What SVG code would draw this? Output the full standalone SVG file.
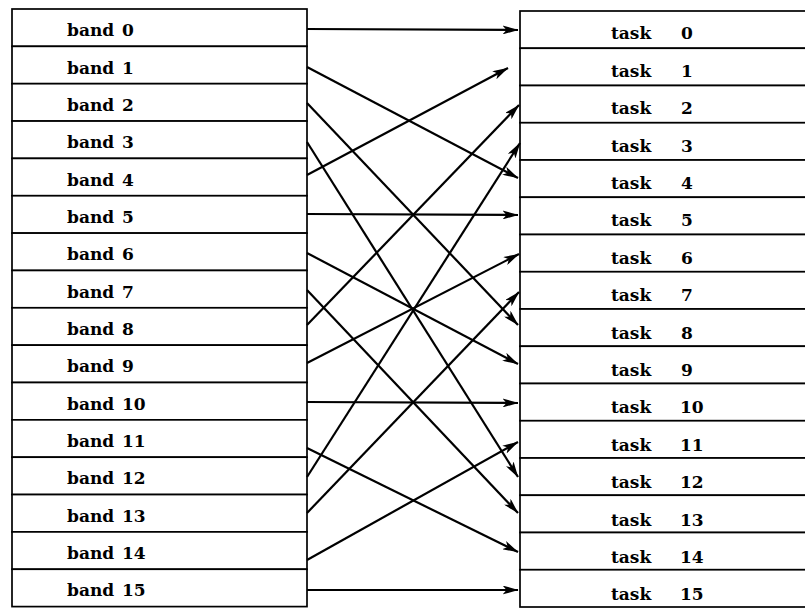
<svg xmlns="http://www.w3.org/2000/svg" width="805" height="609" viewBox="0 0 805 609">
<style>
.row{fill:#fff;stroke:#000;stroke-width:1.7}
.t{font-family:"DejaVu Serif","Liberation Serif",serif;font-weight:bold;font-size:17px;fill:#000}
.c line{stroke:#000;stroke-width:2.2;marker-end:url(#ah)}
</style>
<defs>
<marker id="ah" viewBox="0 0 16 9" markerWidth="16" markerHeight="9" refX="15.5" refY="4.5" orient="auto" markerUnits="userSpaceOnUse">
<path d="M0,0 L16,4.5 L0,9 L4,4.5 z" fill="#000"/>
</marker>
</defs>
<rect width="805" height="609" fill="#fff"/>
<g id="band0"><rect class="row" x="12" y="9" width="295" height="37.35"/><text class="t" x="67" y="36.2">band <tspan x="122">0</tspan></text></g>
<g id="band1"><rect class="row" x="12" y="46.35" width="295" height="37.35"/><text class="t" x="67" y="73.5">band <tspan x="122">1</tspan></text></g>
<g id="band2"><rect class="row" x="12" y="83.7" width="295" height="37.35"/><text class="t" x="67" y="110.9">band <tspan x="122">2</tspan></text></g>
<g id="band3"><rect class="row" x="12" y="121.05" width="295" height="37.35"/><text class="t" x="67" y="148.2">band <tspan x="122">3</tspan></text></g>
<g id="band4"><rect class="row" x="12" y="158.4" width="295" height="37.35"/><text class="t" x="67" y="185.6">band <tspan x="122">4</tspan></text></g>
<g id="band5"><rect class="row" x="12" y="195.75" width="295" height="37.35"/><text class="t" x="67" y="222.9">band <tspan x="122">5</tspan></text></g>
<g id="band6"><rect class="row" x="12" y="233.1" width="295" height="37.35"/><text class="t" x="67" y="260.3">band <tspan x="122">6</tspan></text></g>
<g id="band7"><rect class="row" x="12" y="270.45" width="295" height="37.35"/><text class="t" x="67" y="297.6">band <tspan x="122">7</tspan></text></g>
<g id="band8"><rect class="row" x="12" y="307.8" width="295" height="37.35"/><text class="t" x="67" y="335">band <tspan x="122">8</tspan></text></g>
<g id="band9"><rect class="row" x="12" y="345.15" width="295" height="37.35"/><text class="t" x="67" y="372.3">band <tspan x="122">9</tspan></text></g>
<g id="band10"><rect class="row" x="12" y="382.5" width="295" height="37.35"/><text class="t" x="67" y="409.7">band <tspan x="122">10</tspan></text></g>
<g id="band11"><rect class="row" x="12" y="419.85" width="295" height="37.35"/><text class="t" x="67" y="447">band <tspan x="122">11</tspan></text></g>
<g id="band12"><rect class="row" x="12" y="457.2" width="295" height="37.35"/><text class="t" x="67" y="484.4">band <tspan x="122">12</tspan></text></g>
<g id="band13"><rect class="row" x="12" y="494.55" width="295" height="37.35"/><text class="t" x="67" y="521.7">band <tspan x="122">13</tspan></text></g>
<g id="band14"><rect class="row" x="12" y="531.9" width="295" height="37.35"/><text class="t" x="67" y="559.1">band <tspan x="122">14</tspan></text></g>
<g id="band15"><rect class="row" x="12" y="569.25" width="295" height="37.35"/><text class="t" x="67" y="596.4">band <tspan x="122">15</tspan></text></g>

<g id="task0"><rect class="row" x="520" y="11" width="290" height="37.25"/><text class="t" x="611" y="39.3">task <tspan x="681">0</tspan></text></g>
<g id="task1"><rect class="row" x="520" y="48.25" width="290" height="37.25"/><text class="t" x="611" y="76.7">task <tspan x="681">1</tspan></text></g>
<g id="task2"><rect class="row" x="520" y="85.5" width="290" height="37.25"/><text class="t" x="611" y="114.1">task <tspan x="681">2</tspan></text></g>
<g id="task3"><rect class="row" x="520" y="122.75" width="290" height="37.25"/><text class="t" x="611" y="151.5">task <tspan x="681">3</tspan></text></g>
<g id="task4"><rect class="row" x="520" y="160" width="290" height="37.25"/><text class="t" x="611" y="188.9">task <tspan x="681">4</tspan></text></g>
<g id="task5"><rect class="row" x="520" y="197.25" width="290" height="37.25"/><text class="t" x="611" y="226.3">task <tspan x="681">5</tspan></text></g>
<g id="task6"><rect class="row" x="520" y="234.5" width="290" height="37.25"/><text class="t" x="611" y="263.7">task <tspan x="681">6</tspan></text></g>
<g id="task7"><rect class="row" x="520" y="271.75" width="290" height="37.25"/><text class="t" x="611" y="301.1">task <tspan x="681">7</tspan></text></g>
<g id="task8"><rect class="row" x="520" y="309" width="290" height="37.25"/><text class="t" x="611" y="338.5">task <tspan x="681">8</tspan></text></g>
<g id="task9"><rect class="row" x="520" y="346.25" width="290" height="37.25"/><text class="t" x="611" y="375.9">task <tspan x="681">9</tspan></text></g>
<g id="task10"><rect class="row" x="520" y="383.5" width="290" height="37.25"/><text class="t" x="611" y="413.3">task <tspan x="680">10</tspan></text></g>
<g id="task11"><rect class="row" x="520" y="420.75" width="290" height="37.25"/><text class="t" x="611" y="450.7">task <tspan x="680">11</tspan></text></g>
<g id="task12"><rect class="row" x="520" y="458" width="290" height="37.25"/><text class="t" x="611" y="488.1">task <tspan x="680">12</tspan></text></g>
<g id="task13"><rect class="row" x="520" y="495.25" width="290" height="37.25"/><text class="t" x="611" y="525.5">task <tspan x="680">13</tspan></text></g>
<g id="task14"><rect class="row" x="520" y="532.5" width="290" height="37.25"/><text class="t" x="611" y="562.9">task <tspan x="680">14</tspan></text></g>
<g id="task15"><rect class="row" x="520" y="569.75" width="290" height="37.25"/><text class="t" x="611" y="600.3">task <tspan x="680">15</tspan></text></g>

<g id="connectors" class="c">
<line x1="307" y1="29" x2="518" y2="30"/>
<line x1="307" y1="67" x2="518" y2="178"/>
<line x1="307" y1="103" x2="518" y2="325"/>
<line x1="307" y1="142" x2="518" y2="477"/>
<line x1="307" y1="175" x2="508" y2="68"/>
<line x1="307" y1="214" x2="518" y2="215"/>
<line x1="307" y1="253" x2="518" y2="364"/>
<line x1="307" y1="290" x2="518" y2="513"/>
<line x1="307" y1="325" x2="519" y2="105"/>
<line x1="307" y1="363" x2="519" y2="254"/>
<line x1="307" y1="402" x2="518" y2="403"/>
<line x1="307" y1="448" x2="518" y2="552"/>
<line x1="307" y1="477" x2="520" y2="143"/>
<line x1="307" y1="513" x2="519" y2="292"/>
<line x1="307" y1="560" x2="518" y2="442"/>
<line x1="307" y1="590" x2="518" y2="590"/>
</g>
</svg>
